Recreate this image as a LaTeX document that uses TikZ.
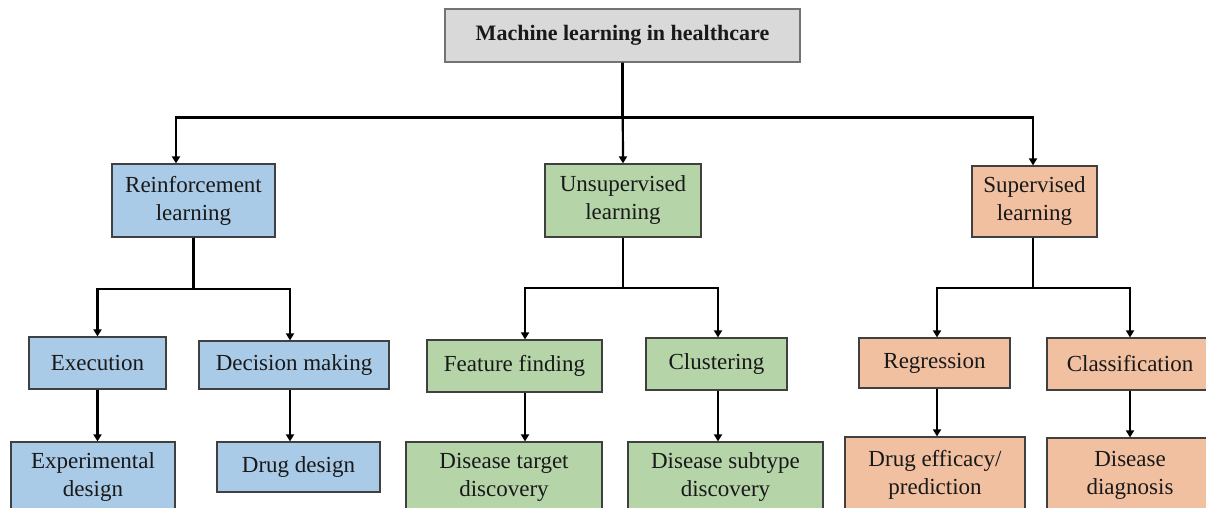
\documentclass[tikz,border=0pt]{standalone}
\usepackage{fontspec}
\setmainfont{Liberation Serif}
\usepackage{xcolor}
\usetikzlibrary{arrows.meta}
\definecolor{rlblue}{RGB}{170,203,231}
\definecolor{ulgreen}{RGB}{181,212,168}
\definecolor{slorange}{RGB}{241,192,160}
\definecolor{rootgray}{RGB}{217,217,217}
\tikzstyle{box}=[rectangle, draw=black!75, line width=1.2pt, inner sep=0pt, align=center, text=black!90, font=\fontsize{23}{28}\selectfont]
\tikzstyle{rlbox} = [box, fill=rlblue]
\tikzstyle{ulbox} = [box, fill=ulgreen]
\tikzstyle{slbox} = [box, fill=slorange]
\tikzstyle{root} = [box, fill=rootgray, draw=black!55, font=\fontsize{22}{26}\selectfont\bfseries]
\tikzstyle{edge} = [draw, line width=2.2pt, -{Triangle[width=8pt,length=7pt]}, black]

\begin{document}
\begin{tikzpicture}[x=1pt, y=-1pt]

				\useasboundingbox (0,0) rectangle (1206,508);
				\clip (0,0) rectangle (1206,508);

				\node[root, minimum width=355pt, minimum height=53pt] (ml) at (622.5, 35.5) {Machine learning in healthcare};

				\node[rlbox, minimum width=163pt, minimum height=73pt] (rl) at (193.5, 200.5) {Reinforcement\\learning};
				\node[ulbox, minimum width=156pt, minimum height=73pt] (ul) at (623, 200.5) {Unsupervised\\learning};
				\node[slbox, minimum width=125pt, minimum height=71pt] (sl) at (1034.5, 201.5) {Supervised\\learning};

				\draw[edge] (ml.south) -- ++(0,55) -| ([xshift=-17.5pt]rl.north);
				\draw[edge] (ml.south) -- (ul.north);
				\draw[edge] (ml.south) -- ++(0,55) -| ([xshift=-1.5pt]sl.north);

				\node[rlbox, minimum width=137pt, minimum height=52pt] (rl_1) at (97.5, 363) {Execution};
				\node[rlbox, minimum width=190pt, minimum height=48pt] (rl_2) at (294, 365) {Decision making};
				\node[rlbox, minimum width=164pt, minimum height=69pt] (rl_3) at (93, 476.5) {Experimental\\design};
				\node[rlbox, minimum width=163pt, minimum height=50pt] (rl_4) at (298.5, 467) {Drug design};

				\draw[edge] (rl.south) -- ++(0,51) -| (rl_1.north);
				\draw[edge] (rl.south) -- ++(0,51) -| ([xshift=-4pt]rl_2.north);
				\draw[edge] (rl_1.south) -- (rl_1.south |- rl_3.north);
				\draw[edge] ([xshift=-4pt]rl_2.south) -- ([xshift=-4pt]rl_2.south |- rl_4.north);

				\node[ulbox, minimum width=175pt, minimum height=52pt] (ul_1) at (514.5, 366) {Feature finding};
				\node[ulbox, minimum width=141pt, minimum height=52pt] (ul_2) at (716.5, 364) {Clustering};
				\node[ulbox, minimum width=196pt, minimum height=70pt] (ul_3) at (504, 477) {Disease target\\discovery};
				\node[ulbox, minimum width=195pt, minimum height=70pt] (ul_4) at (725.5, 477) {Disease subtype\\discovery};

				\draw[edge] (ul.south) -- ++(0,50) -| ([xshift=10.5pt]ul_1.north);
				\draw[edge] (ul.south) -- ++(0,50) -| ([xshift=1.5pt]ul_2.north);
				\draw[edge] ([xshift=10.5pt]ul_1.south) -- ([xshift=10.5pt]ul_1.south |- ul_3.north);
				\draw[edge] ([xshift=1.5pt]ul_2.south) -- ([xshift=1.5pt]ul_2.south |- ul_4.north);

				\node[slbox, minimum width=151pt, minimum height=50pt] (sl_1) at (934.5, 363) {Regression};
				\node[slbox, minimum width=166pt, minimum height=52pt] (sl_2) at (1130, 364) {Classification};
				\node[slbox, minimum width=180pt, minimum height=76pt] (sl_3) at (935, 475) {Drug efficacy/\\prediction};
				\node[slbox, minimum width=166pt, minimum height=74pt] (sl_4) at (1130, 475) {Disease\\diagnosis};

				\draw[edge] ([xshift=-1.5pt]sl.south) -- ++(0,50) -| ([xshift=2.5pt]sl_1.north);
				\draw[edge] ([xshift=-1.5pt]sl.south) -- ++(0,50) -| (sl_2.north);
				\draw[edge] ([xshift=2.5pt]sl_1.south) -- ([xshift=2.5pt]sl_1.south |- sl_3.north);
				\draw[edge] (sl_2.south) -- (sl_2.south |- sl_4.north);
			\end{tikzpicture}
\end{document}
